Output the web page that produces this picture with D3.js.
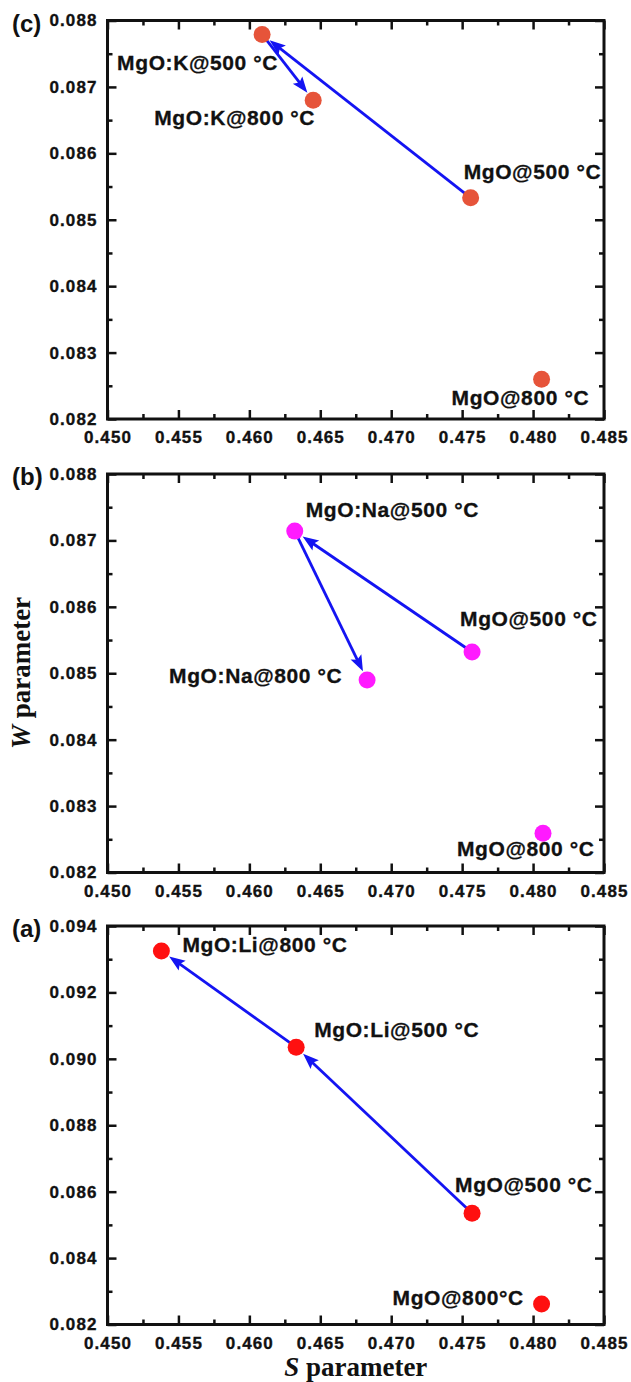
<!DOCTYPE html>
<html>
<head>
<meta charset="utf-8">
<script src="https://cdn.jsdelivr.net/npm/d3@7"></script>
<style>
  body { margin: 0; background: #fff; }
  svg { display: block; }
  .tick text { font-family: "Liberation Sans", Arial, sans-serif; font-weight: bold; font-size: 17px; letter-spacing: 1.1px; fill: #111; stroke: #111; stroke-width: 0.35px; }
  .lab { font-family: "Liberation Sans", Arial, sans-serif; font-weight: bold; font-size: 21px; letter-spacing: 0.6px; fill: #111; stroke: #111; stroke-width: 0.3px; }
  .title { font-family: "Liberation Serif", "Times New Roman", serif; font-weight: bold; font-size: 27px; fill: #111; }
</style>
</head>
<body>
<svg id="chart" width="631" height="1382"></svg>
<script>
// x axis shared by all three panels
var sTicks = [0.450, 0.455, 0.460, 0.465, 0.470, 0.475, 0.480, 0.485];

// panel (c) : MgO:K
var sC = [0.4609, 0.4645, 0.4756, 0.4806];
var wC = [0.08779, 0.08680, 0.08533, 0.08260];
var labC = ['MgO:K@500 \u00B0C', 'MgO:K@800 \u00B0C', 'MgO@500 \u00B0C', 'MgO@800 \u00B0C'];
var arrowsC = [[2, 0], [0, 1]];
var wTicksC = [0.082, 0.083, 0.084, 0.085, 0.086, 0.087, 0.088];

// panel (b) : MgO:Na
var sB = [0.4632, 0.4683, 0.4757, 0.4807];
var wB = [0.08714, 0.08490, 0.08532, 0.08259];
var labB = ['MgO:Na@500 \u00B0C', 'MgO:Na@800 \u00B0C', 'MgO@500 \u00B0C', 'MgO@800 \u00B0C'];
var arrowsB = [[2, 0], [0, 1]];
var wTicksB = [0.082, 0.083, 0.084, 0.085, 0.086, 0.087, 0.088];

// panel (a) : MgO:Li
var sA = [0.4538, 0.4633, 0.4757, 0.4806];
var wA = [0.09325, 0.09035, 0.08535, 0.08262];
var labA = ['MgO:Li@800 \u00B0C', 'MgO:Li@500 \u00B0C', 'MgO@500 \u00B0C', 'MgO@800\u00B0C'];
var arrowsA = [[2, 1], [1, 0]];
var wTicksA = [0.082, 0.084, 0.086, 0.088, 0.090, 0.092, 0.094];

// label offsets from the marker (pixels), layout only
var offC = [[-145, 36], [-159, 25], [-7, -19], [-90, 26]];
var offB = [[11, -14], [-198, 3], [-12, -26], [-86, 23]];
var offA = [[21, 1], [18, -10], [-17, -21], [-149, 1]];

var left = 107.5, right = 604, ph = 398.5;
var blue = '#1414f2';
var svg = d3.select('#chart');

var x = d3.scaleLinear().domain([0.450, 0.485]).range([left, right]);

function minorsOf(ticks) {
  var m = [];
  for (var i = 0; i < ticks.length - 1; i++) m.push((ticks[i] + ticks[i + 1]) / 2);
  return m;
}

function panel(tag, top, s, w, labs, offs, arrows, wTicks, color) {
  var y = d3.scaleLinear().domain([wTicks[0], wTicks[wTicks.length - 1]]).range([top + ph, top]);
  var g = svg.append('g');
  var bottom = top + ph;
  var fmt = d3.format('.3f');

  // major ticks with labels, left and bottom
  g.append('g').attr('transform', 'translate(' + left + ',0)')
    .call(d3.axisLeft(y).tickValues(wTicks).tickFormat(fmt).tickSizeInner(-9).tickSizeOuter(0).tickPadding(10));
  g.append('g').attr('transform', 'translate(0,' + bottom + ')')
    .call(d3.axisBottom(x).tickValues(sTicks).tickFormat(fmt).tickSizeInner(-9).tickSizeOuter(0).tickPadding(12));
  // right and top, no labels
  g.append('g').attr('transform', 'translate(' + right + ',0)')
    .call(d3.axisRight(y).tickValues(wTicks).tickFormat('').tickSizeInner(-9).tickSizeOuter(0));
  g.append('g').attr('transform', 'translate(0,' + top + ')')
    .call(d3.axisTop(x).tickValues(sTicks).tickFormat('').tickSizeInner(-9).tickSizeOuter(0));
  // minors
  g.append('g').attr('transform', 'translate(' + left + ',0)')
    .call(d3.axisLeft(y).tickValues(minorsOf(wTicks)).tickFormat('').tickSizeInner(-5).tickSizeOuter(0));
  g.append('g').attr('transform', 'translate(' + right + ',0)')
    .call(d3.axisRight(y).tickValues(minorsOf(wTicks)).tickFormat('').tickSizeInner(-5).tickSizeOuter(0));
  g.append('g').attr('transform', 'translate(0,' + bottom + ')')
    .call(d3.axisBottom(x).tickValues(minorsOf(sTicks)).tickFormat('').tickSizeInner(-5).tickSizeOuter(0));
  g.append('g').attr('transform', 'translate(0,' + top + ')')
    .call(d3.axisTop(x).tickValues(minorsOf(sTicks)).tickFormat('').tickSizeInner(-5).tickSizeOuter(0));

  g.selectAll('.domain').remove();
  g.selectAll('.tick line').attr('stroke', '#111').attr('stroke-width', 2.5);

  g.append('rect').attr('x', left).attr('y', top).attr('width', right - left).attr('height', ph)
    .attr('fill', 'none').attr('stroke', '#111').attr('stroke-width', 3);

  // arrows
  var r = 8.5;
  arrows.forEach(function (a) {
    var x0 = x(s[a[0]]), y0 = y(w[a[0]]), x1 = x(s[a[1]]), y1 = y(w[a[1]]);
    var dx = x1 - x0, dy = y1 - y0, len = Math.sqrt(dx * dx + dy * dy);
    var ux = dx / len, uy = dy / len;
    var tx = x1 - ux * (r + 1), ty = y1 - uy * (r + 1);
    var hl = 16, hw = 6;
    var bx = tx - ux * hl, by = ty - uy * hl;
    g.append('line').attr('x1', x0).attr('y1', y0).attr('x2', bx + ux * 4).attr('y2', by + uy * 4)
      .attr('stroke', blue).attr('stroke-width', 2.8);
    g.append('path')
      .attr('d', 'M' + tx + ',' + ty +
        'L' + (bx - uy * hw) + ',' + (by + ux * hw) +
        'L' + (bx + ux * 3) + ',' + (by + uy * 3) +
        'L' + (bx + uy * hw) + ',' + (by - ux * hw) + 'Z')
      .attr('fill', blue);
  });

  g.selectAll('circle.pt').data(s).enter().append('circle')
    .attr('class', 'pt')
    .attr('cx', function (d) { return x(d); })
    .attr('cy', function (d, i) { return y(w[i]); })
    .attr('r', r).attr('fill', color);

  g.selectAll('text.lab').data(labs).enter().append('text')
    .attr('class', 'lab')
    .attr('x', function (d, i) { return x(s[i]) + offs[i][0]; })
    .attr('y', function (d, i) { return y(w[i]) + offs[i][1]; })
    .text(function (d) { return d; });

  g.append('text').attr('x', 12).attr('y', top + 11)
    .style('font-family', '"Liberation Sans", Arial, sans-serif')
    .style('font-weight', 'bold').style('font-size', '24px').style('fill', '#111')
    .text('(' + tag + ')');
}

panel('c', 20.5, sC, wC, labC, offC, arrowsC, wTicksC, '#e6543a');
panel('b', 474, sB, wB, labB, offB, arrowsB, wTicksB, '#ff1aff');
panel('a', 926, sA, wA, labA, offA, arrowsA, wTicksA, '#ff1010');

// axis titles
var wt = svg.append('text').attr('class', 'title')
  .attr('transform', 'translate(30,673) rotate(-90)').attr('text-anchor', 'middle');
wt.append('tspan').style('font-style', 'italic').text('W');
wt.append('tspan').text(' parameter');

var st = svg.append('text').attr('class', 'title')
  .attr('x', (left + right) / 2).attr('y', 1376).attr('text-anchor', 'middle');
st.append('tspan').style('font-style', 'italic').text('S');
st.append('tspan').text(' parameter');
</script>
</body>
</html>
